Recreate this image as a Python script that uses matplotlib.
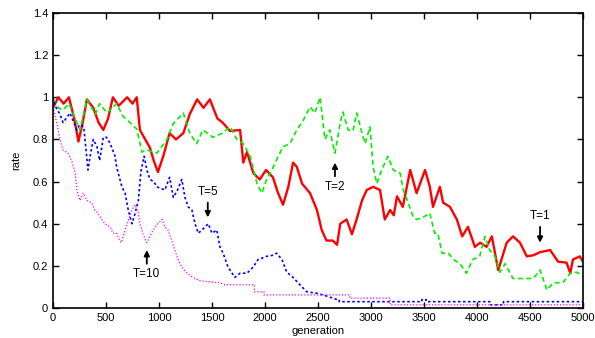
import matplotlib
matplotlib.use("Agg")
import matplotlib.pyplot as plt

# ---- data ----
red_gen = [0, 50, 100, 150, 200, 240, 280, 320, 380, 430, 475, 520, 565, 620, 700, 750, 790, 820, 870, 915,
           950, 990, 1040, 1100, 1160, 1230, 1290, 1360, 1420, 1480, 1550, 1600, 1670, 1765, 1795, 1830, 1890,
           1950, 2010, 2075, 2120, 2170, 2220, 2265, 2300, 2350, 2425, 2490, 2535, 2580, 2640, 2680, 2710, 2770,
           2820, 2870, 2915, 2960, 3020, 3085, 3130, 3180, 3215, 3245, 3300, 3370, 3430, 3470, 3510, 3555, 3585,
           3650, 3680, 3745, 3810, 3860, 3915, 3980, 4030, 4090, 4140, 4200, 4280, 4340, 4405, 4470, 4530, 4595,
           4690, 4765, 4845, 4880, 4905, 4970, 5000]
red_val = [0.95, 1.0, 0.97, 1.0, 0.9, 0.79, 0.88, 0.99, 0.95, 0.88, 0.845, 0.9, 1.0, 0.96, 1.0, 0.97, 1.0, 0.845,
           0.8, 0.76, 0.7, 0.645, 0.72, 0.83, 0.8, 0.83, 0.92, 0.99, 0.95, 0.99, 0.9, 0.88, 0.84, 0.845, 0.69,
           0.74, 0.64, 0.61, 0.655, 0.62, 0.55, 0.49, 0.575, 0.69, 0.67, 0.59, 0.545, 0.465, 0.37, 0.32, 0.32,
           0.30, 0.40, 0.42, 0.35, 0.43, 0.51, 0.56, 0.575, 0.56, 0.42, 0.465, 0.44, 0.53, 0.48, 0.655, 0.545,
           0.6, 0.655, 0.575, 0.48, 0.575, 0.5, 0.48, 0.42, 0.34, 0.385, 0.29, 0.31, 0.29, 0.34, 0.18, 0.31,
           0.34, 0.31, 0.245, 0.25, 0.265, 0.275, 0.22, 0.215, 0.165, 0.23, 0.245, 0.22]

green_gen = [0, 50, 95, 150, 225, 255, 320, 400, 440, 510, 600, 660, 725, 790, 840, 885, 980, 1075, 1135, 1230,
             1290, 1355, 1415, 1510, 1600, 1670, 1735, 1795, 1860, 1925, 1970, 2015, 2065, 2125, 2170, 2235,
             2300, 2360, 2425, 2470, 2520, 2565, 2610, 2660, 2710, 2735, 2785, 2830, 2865, 2915, 2945, 2990,
             3020, 3055, 3100, 3160, 3210, 3275, 3305, 3350, 3400, 3430, 3490, 3555, 3600, 3630, 3670, 3730,
             3780, 3840, 3900, 3960, 4025, 4075, 4120, 4170, 4215, 4265, 4340, 4450, 4530, 4595, 4660, 4720,
             4810, 4880, 4940, 5000]
green_val = [0.99, 0.95, 0.94, 0.97, 0.88, 0.845, 0.99, 0.92, 0.97, 0.925, 0.97, 0.91, 0.88, 0.85, 0.74, 0.75,
             0.735, 0.8, 0.875, 0.925, 0.83, 0.78, 0.845, 0.81, 0.83, 0.86, 0.8, 0.78, 0.72, 0.59, 0.545, 0.61,
             0.655, 0.72, 0.765, 0.78, 0.845, 0.89, 0.955, 0.925, 1.0, 0.8, 0.845, 0.735, 0.88, 0.93, 0.845,
             0.84, 0.925, 0.83, 0.78, 0.86, 0.67, 0.59, 0.655, 0.72, 0.655, 0.64, 0.56, 0.5, 0.43, 0.42, 0.43,
             0.45, 0.355, 0.355, 0.26, 0.26, 0.23, 0.21, 0.165, 0.23, 0.245, 0.34, 0.275, 0.245, 0.17, 0.21,
             0.14, 0.14, 0.14, 0.18, 0.085, 0.12, 0.12, 0.165, 0.17, 0.15]

blue_gen = [0, 30, 65, 95, 160, 225, 250, 290, 330, 350, 380, 415, 440, 475, 505, 540, 585, 600, 650, 680, 710,
            745, 775, 805, 830, 860, 885, 915, 950, 980, 1055, 1100, 1135, 1175, 1215, 1245, 1275, 1310, 1340,
            1370, 1405, 1465, 1500, 1545, 1575, 1605, 1650, 1690, 1715, 1765, 1830, 1890, 1935, 2015, 2070, 2110,
            2160, 2205, 2265, 2330, 2395, 2490, 2560, 2620, 2680, 2700, 2700, 3480, 3480, 3520, 3520, 4130,
            4130, 4250, 4250, 5000]
blue_val = [1.0, 0.95, 0.92, 0.88, 0.925, 0.845, 0.87, 0.86, 0.655, 0.72, 0.8, 0.765, 0.7, 0.81, 0.81, 0.78,
            0.72, 0.67, 0.575, 0.545, 0.465, 0.40, 0.45, 0.51, 0.65, 0.72, 0.655, 0.61, 0.6, 0.575, 0.56, 0.62,
            0.525, 0.56, 0.61, 0.525, 0.48, 0.465, 0.40, 0.355, 0.37, 0.40, 0.355, 0.37, 0.29, 0.26, 0.195,
            0.165, 0.145, 0.165, 0.165, 0.195, 0.23, 0.245, 0.25, 0.26, 0.23, 0.17, 0.145, 0.11, 0.077, 0.07,
            0.06, 0.05, 0.04, 0.04, 0.03, 0.03, 0.04, 0.04, 0.03, 0.03, 0.015, 0.015, 0.03, 0.03]

mag_gen = [0, 35, 65, 95, 140, 175, 210, 225, 255, 285, 320, 365, 395, 425, 460, 490, 540, 565, 600, 630, 645,
           700, 745, 775, 805, 820, 850, 885, 915, 945, 990, 1030, 1055, 1085, 1120, 1150, 1180, 1215, 1265,
           1320, 1385, 1450, 1575, 1620, 1900, 1900, 1990, 1990, 2800, 2800, 3180, 3180, 5000]
mag_val = [0.955, 0.88, 0.8, 0.75, 0.735, 0.70, 0.64, 0.56, 0.51, 0.545, 0.51, 0.5, 0.465, 0.45, 0.42, 0.40,
           0.385, 0.355, 0.355, 0.32, 0.31, 0.40, 0.465, 0.49, 0.45, 0.40, 0.35, 0.31, 0.34, 0.37, 0.40, 0.42,
           0.385, 0.37, 0.32, 0.275, 0.23, 0.195, 0.165, 0.145, 0.13, 0.125, 0.12, 0.11, 0.11, 0.077, 0.077,
           0.062, 0.062, 0.047, 0.047, 0.015, 0.015]

x_ticks = [0, 500, 1000, 1500, 2000, 2500, 3000, 3500, 4000, 4500, 5000]
y_ticks = [0, 0.2, 0.4, 0.6, 0.8, 1.0, 1.2, 1.4]
y_tick_labels = ["0", "0.2", "0.4", "0.6", "0.8", "1", "1.2", "1.4"]

# annotations: label, x, arrow tail y, arrow head y, text y, text vertical alignment
annots = [("T=1", 4595, 0.385, 0.31, 0.41, "bottom"),
          ("T=2", 2660, 0.625, 0.69, 0.605, "top"),
          ("T=5", 1460, 0.50, 0.43, 0.52, "bottom"),
          ("T=10", 885, 0.21, 0.275, 0.19, "top")]

plt.rcParams['font.family'] = ['Liberation Sans', 'DejaVu Sans']
fig = plt.figure(figsize=(5.95, 3.38), dpi=100)
ax = fig.add_axes([53 / 595, 1 - 308 / 338, 530 / 595, 295 / 338])

ax.plot(red_gen, red_val, color='#ff0000', lw=1.7)
ax.plot(green_gen, green_val, color='#00f000', lw=1.2, dashes=(3, 2))
ax.plot(blue_gen, blue_val, color='#0000ff', lw=1.2, dashes=(1.5, 1.5))
ax.plot(mag_gen, mag_val, color='#ff00ff', lw=0.9, dashes=(1, 1.5))

for label, x, ytail, yhead, ytext, va in annots:
    ax.annotate("", xy=(x, yhead), xytext=(x, ytail),
                arrowprops=dict(arrowstyle='-|>', color='black', lw=1.3, mutation_scale=8,
                                shrinkA=0, shrinkB=0))
    ax.text(x, ytext, label, ha='center', va=va, fontsize=8.5)

ax.set_xlim(0, 5000)
ax.set_ylim(0, 1.4)
ax.set_xticks(x_ticks)
ax.set_yticks(y_ticks)
ax.set_yticklabels(y_tick_labels)
ax.tick_params(direction='in', top=True, right=True, labelsize=8, length=4, width=1)
for s in ax.spines.values():
    s.set_linewidth(1.2)
ax.set_xlabel("generation", fontsize=8, labelpad=2)
ax.set_ylabel("rate", fontsize=8, labelpad=8)

fig.savefig("out.png", dpi=100)
